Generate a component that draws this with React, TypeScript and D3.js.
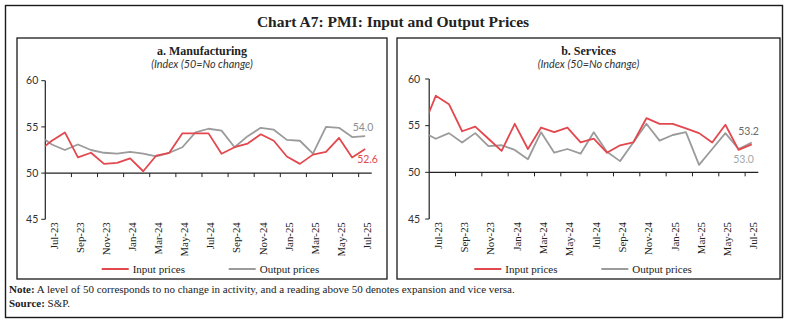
import React from "react";
import * as d3 from "d3";

// Months: Jun-23 is only the lead-in month (line enters from the y-axis); axis runs Jul-23 .. Jul-25
const months = [
  "Jun-23", "Jul-23", "Aug-23", "Sep-23", "Oct-23", "Nov-23", "Dec-23",
  "Jan-24", "Feb-24", "Mar-24", "Apr-24", "May-24", "Jun-24", "Jul-24",
  "Aug-24", "Sep-24", "Oct-24", "Nov-24", "Dec-24", "Jan-25", "Feb-25",
  "Mar-25", "Apr-25", "May-25", "Jun-25", "Jul-25",
];
const tickLabels = [
  "Jul-23", "Sep-23", "Nov-23", "Jan-24", "Mar-24", "May-24", "Jul-24",
  "Sep-24", "Nov-24", "Jan-25", "Mar-25", "May-25", "Jul-25",
];
const yTicks = [45, 50, 55, 60];

const mfgInput = [52.4, 53.5, 54.4, 51.7, 52.2, 51.0, 51.1, 51.6, 50.2, 51.9, 52.2, 54.3, 54.3, 54.3, 52.1, 52.8, 53.2, 54.2, 53.5, 51.8, 51.0, 52.0, 52.3, 53.8, 51.7, 52.6];
const mfgOutput = [54.1, 53.1, 52.5, 53.1, 52.5, 52.2, 52.1, 52.3, 52.1, 51.8, 52.2, 52.8, 54.4, 54.8, 54.6, 52.8, 54.0, 54.9, 54.7, 53.6, 53.5, 52.1, 55.0, 54.9, 53.9, 54.0];
const svcInput = [54.7, 58.2, 57.3, 54.4, 54.9, 53.6, 52.3, 55.2, 52.5, 54.8, 54.3, 54.8, 53.2, 53.6, 52.1, 52.9, 53.2, 55.8, 55.2, 55.2, 54.7, 54.2, 53.2, 55.1, 52.4, 53.0];
const svcOutput = [54.3, 53.6, 54.2, 53.2, 54.2, 52.8, 52.9, 52.4, 51.4, 54.3, 52.1, 52.5, 52.0, 54.3, 52.2, 51.2, 53.2, 55.2, 53.4, 54.0, 54.3, 50.8, 52.5, 54.2, 52.5, 53.2];

const seriesNames = ["Input prices", "Output prices"];
const title = "Chart A7: PMI: Input and Output Prices";
const panelTitles = ["a. Manufacturing", "b. Services"];
const panelSubtitle = "(Index (50=No change)";

const RED = "#E2484E";
const GRAY = "#9B9B9B";
const serif = "'Liberation Serif', 'DejaVu Serif', serif";
const sans = "Lato, 'Open Sans', 'Liberation Sans', sans-serif";

type PanelCfg = {
  id: string;
  box: [number, number, number, number];
  x0: number; x1: number; yTop: number; yBot: number;
  title: string;
  input: number[]; output: number[];
  legendX: number;
  inLab: { dx: number; dy: number; color: string };
  outLab: { dx: number; dy: number; color: string };
  yLabGap: number;
};

function Panel({ c }: { c: PanelCfg }) {
  const nSlots = months.length - 1; // 25 category slots on the axis
  const xs = d3.scaleLinear().domain([0, nSlots]).range([c.x0, c.x1]);
  const ys = d3.scaleLinear().domain([45, 60]).range([c.yBot, c.yTop]);
  const xOf = (m: number) => xs(m - 0.5);
  const line = d3.line<number>().x((_, i) => xOf(i)).y((v) => ys(v));
  const [bx, by, bw, bh] = c.box;
  const cx = bx + bw / 2;
  const boundaryTicks = d3.range(2, nSlots, 2);
  const last = months.length - 1;
  const y50 = ys(50);
  return (
    <g>
      <defs>
        <clipPath id={"clip-" + c.id}>
          <rect x={c.x0} y={c.yTop - 20} width={c.x1 - c.x0} height={c.yBot - c.yTop + 40} />
        </clipPath>
      </defs>
      <rect x={bx} y={by} width={bw} height={bh} fill="none" stroke="#1a1a1a" strokeWidth={1.3} />
      <text x={cx} y={by + 17} textAnchor="middle" fontFamily={serif} fontWeight="bold" fontSize={12} fill="#222">{c.title}</text>
      <text x={cx} y={by + 30} textAnchor="middle" fontFamily={sans} fontStyle="italic" fontSize={10.8} fill="#333">{panelSubtitle}</text>

      {/* y axis */}
      <line x1={c.x0} x2={c.x0} y1={ys(60)} y2={ys(45)} stroke="#222" strokeWidth={1.2} />
      {yTicks.map((t) => (
        <g key={t}>
          <line x1={c.x0 - 4} x2={c.x0} y1={ys(t)} y2={ys(t)} stroke="#222" strokeWidth={1} />
          <text x={c.x0 - c.yLabGap} y={ys(t)} dy="0.35em" textAnchor="end" fontFamily={sans} fontSize={10.5} fill="#333">{t}</text>
        </g>
      ))}
      {/* x axis at 50 */}
      <line x1={c.x0} x2={c.x1} y1={y50} y2={y50} stroke="#222" strokeWidth={1.2} />
      {boundaryTicks.map((j) => (
        <line key={j} x1={xs(j)} x2={xs(j)} y1={y50} y2={y50 + 4} stroke="#222" strokeWidth={1} />
      ))}
      {tickLabels.map((lab, k) => {
        const x = xs(2 * k + 0.5);
        return (
          <text key={lab} transform={`translate(${x + 2},${c.yBot + 3}) rotate(-90)`} dy="0.35em" textAnchor="end" fontFamily={serif} fontSize={10.8} fill="#222">{lab}</text>
        );
      })}

      <g clipPath={`url(#clip-${c.id})`}>
        <path d={line(c.output) || ""} fill="none" stroke={GRAY} strokeWidth={1.8} strokeLinejoin="round" />
        <path d={line(c.input) || ""} fill="none" stroke={RED} strokeWidth={1.8} strokeLinejoin="round" />
      </g>

      <text x={xOf(last) + c.outLab.dx} y={ys(c.output[last]) + c.outLab.dy} fontFamily={sans} fontSize={10.5} fill={c.outLab.color}>{c.output[last].toFixed(1)}</text>
      <text x={xOf(last) + c.inLab.dx} y={ys(c.input[last]) + c.inLab.dy} fontFamily={sans} fontSize={10.5} fill={c.inLab.color}>{c.input[last].toFixed(1)}</text>

      {/* legend */}
      {seriesNames.map((name, i) => {
        const lx = c.legendX + i * 127;
        const ly = by + bh - 10;
        return (
          <g key={name}>
            <line x1={lx} x2={lx + 27} y1={ly} y2={ly} stroke={i === 0 ? RED : GRAY} strokeWidth={2} />
            <text x={lx + 31} y={ly} dy="0.33em" fontFamily={serif} fontSize={11} fill="#222">{name}</text>
          </g>
        );
      })}
    </g>
  );
}

export default function App() {
  const panels: PanelCfg[] = [
    {
      id: "a", box: [17, 38, 370, 241], x0: 45.3, x1: 371.7, yTop: 80.7, yBot: 219.3,
      title: panelTitles[0], input: mfgInput, output: mfgOutput, legendX: 101.7,
      inLab: { dx: -8, dy: 14, color: RED }, outLab: { dx: -12.5, dy: -5.5, color: "#8E8E8E" }, yLabGap: 7,
    },
    {
      id: "b", box: [397, 38, 383, 241], x0: 429.2, x1: 758.3, yTop: 79, yBot: 219,
      title: panelTitles[1], input: svcInput, output: svcOutput, legendX: 474.3,
      inLab: { dx: -18.5, dy: 19, color: "#A3A7AC" }, outLab: { dx: -13.5, dy: -7, color: "#6A6A6A" }, yLabGap: 9,
    },
  ];
  return (
    <svg width={785} height={323} style={{ position: "absolute", left: 0, top: 0, background: "#fff" }}>
      <rect x={5.5} y={5.5} width={777} height={312} fill="none" stroke="#1a1a1a" strokeWidth={1.4} />
      <text x={393} y={27} textAnchor="middle" fontFamily={serif} fontWeight="bold" fontSize={15.5} fill="#222">{title}</text>
      {panels.map((p) => <Panel key={p.id} c={p} />)}
      <text x={9} y={293} fontFamily={serif} fontSize={11} fill="#222">
        <tspan fontWeight="bold">Note:</tspan> A level of 50 corresponds to no change in activity, and a reading above 50 denotes expansion and vice versa.
      </text>
      <text x={9} y={307} fontFamily={serif} fontSize={11} fill="#222">
        <tspan fontWeight="bold">Source:</tspan> S&amp;P.
      </text>
    </svg>
  );
}
